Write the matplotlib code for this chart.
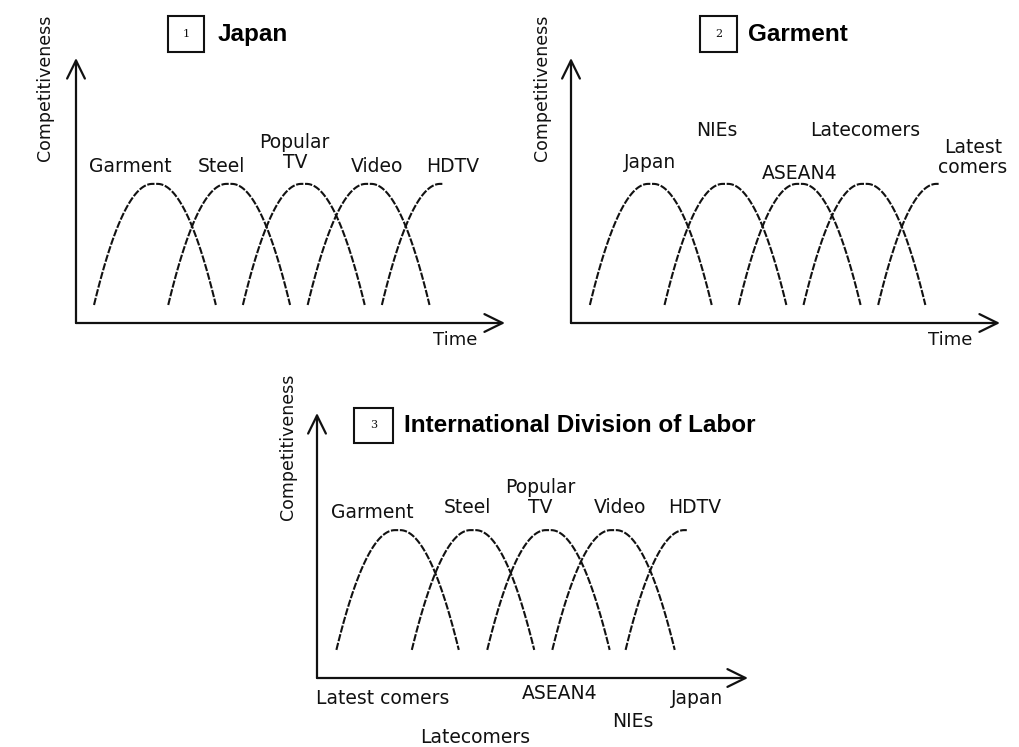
import numpy as np
import matplotlib
matplotlib.use("Agg")
import matplotlib.pyplot as plt
from matplotlib.patches import Rectangle

# x: time (0..100 along the axis), y: competitiveness (0..100 up the axis)
japan_products = ["Garment", "Steel", "Popular\nTV", "Video", "HDTV"]
japan_peak_time = [18.4, 35.7, 53.1, 68.2, 85.5]

garment_countries = ["Japan", "NIEs", "ASEAN4", "Latecomers", "Latest\ncomers"]
garment_peak_time = [18.6, 36.0, 53.3, 68.4, 85.8]

division_products = ["Garment", "Steel", "Popular\nTV", "Video", "HDTV"]
division_peak_time = [18.7, 36.2, 53.7, 68.8, 85.8]
division_countries = ["Latest comers", "Latecomers", "ASEAN4", "NIEs", "Japan"]

half_span = 14.2
plateau = 1.2
peak_level = [52.5, 52.5, 55.8]
base_level = [6.8, 6.8, 10.6]

W, H = 1019, 747
fig = plt.figure(figsize=(W / 100, H / 100), dpi=100)
fig.patch.set_facecolor("white")

LINE = "#111111"
FONT = "DejaVu Sans"
TFONT = "Liberation Sans"


def make_axes(ox, oy, w, h):
    ax = fig.add_axes([ox / W, (H - oy) / H, w / W, h / H])
    ax.set_xlim(0, 100)
    ax.set_ylim(0, 100)
    ax.axis("off")
    arrow = dict(arrowstyle="->,head_length=0.65,head_width=0.32", lw=1.6,
                 color=LINE, mutation_scale=20, shrinkA=0, shrinkB=0)
    ax.annotate("", xy=(100, 0), xytext=(0, 0), arrowprops=arrow, annotation_clip=False)
    ax.annotate("", xy=(0, 100), xytext=(0, 0), arrowprops=arrow, annotation_clip=False)
    return ax


def draw_curves(ax, peaks, base, top):
    r = half_span - plateau / 2
    for i, c in enumerate(peaks):
        last = i == len(peaks) - 1
        x = np.linspace(c - half_span, c if last else c + half_span, 80)
        d = np.clip(np.abs(x - c) - plateau / 2, 0, None)
        y = base + (top - base) * (1 - (d / r) ** 2)
        ax.plot(x, y, color=LINE, lw=1.5, linestyle=(0, (3.5, 0.8)), clip_on=False)


def title_box(ax, num, title, bx, by, bw, bh, tx, ty):
    ax.add_patch(Rectangle((bx, by), bw, bh, fill=False, lw=1.5, ec=LINE, clip_on=False))
    ax.text(bx + bw / 2, by + bh / 2, num, ha="center", va="center", fontsize=8,
            family="DejaVu Serif", color=LINE)
    ax.text(tx, ty, title, ha="left", va="center", fontsize=17.5, fontweight="bold",
            family=TFONT, color="black")


def ylabel(ax, x, y):
    ax.text(x, y, "Competitiveness", rotation=90, ha="center", va="center",
            fontsize=12.5, family=FONT, color=LINE, clip_on=False)


def label(ax, x, y, s, size=13.5):
    ax.text(x, y, s, ha="center", va="center", fontsize=size, family=FONT,
            color=LINE, linespacing=1.05, clip_on=False)


# Panel 1: Japan
ax1 = make_axes(76, 323, 429, 265)
draw_curves(ax1, japan_peak_time, base_level[0], peak_level[0])
title_box(ax1, "1", "Japan", 21.4, 102.3, 8.4, 13.5, 32.9, 108.7)
ylabel(ax1, -7.2, 88.7)
label(ax1, 88.3, -6.4, "Time", 13)
pos1 = [(12.6, 58.9), (34.0, 58.9), (51.0, 64.3), (70.2, 58.9), (87.9, 58.9)]
for s, (x, y) in zip(japan_products, pos1):
    label(ax1, x, y, s)

# Panel 2: Garment
ax2 = make_axes(571, 323, 429, 265)
draw_curves(ax2, garment_peak_time, base_level[1], peak_level[1])
title_box(ax2, "2", "Garment", 30.1, 102.3, 8.6, 13.5, 41.3, 108.7)
ylabel(ax2, -6.8, 88.7)
label(ax2, 88.3, -6.4, "Time", 13)
pos2 = [(18.4, 60.4), (34.0, 72.8), (53.4, 56.6), (68.5, 72.8), (93.7, 62.5)]
for s, (x, y) in zip(garment_countries, pos2):
    label(ax2, x, y, s)

# Panel 3: International Division of Labor
ax3 = make_axes(317, 678, 431, 265)
draw_curves(ax3, division_peak_time, base_level[2], peak_level[2])
title_box(ax3, "3", "International Division of Labor", 8.6, 88.7, 9.0, 13.2, 20.2, 95.1)
ylabel(ax3, -6.7, 87.2)
pos3 = [(12.8, 62.6), (34.8, 64.5), (51.7, 68.1), (70.3, 64.5), (87.7, 64.5)]
for s, (x, y) in zip(division_products, pos3):
    label(ax3, x, y, s)
pos3b = [(15.3, -7.9), (36.7, -22.3), (56.4, -5.7), (73.3, -16.6), (88.2, -7.9)]
for s, (x, y) in zip(division_countries, pos3b):
    label(ax3, x, y, s)

fig.savefig("out.png", dpi=100, facecolor="white")
